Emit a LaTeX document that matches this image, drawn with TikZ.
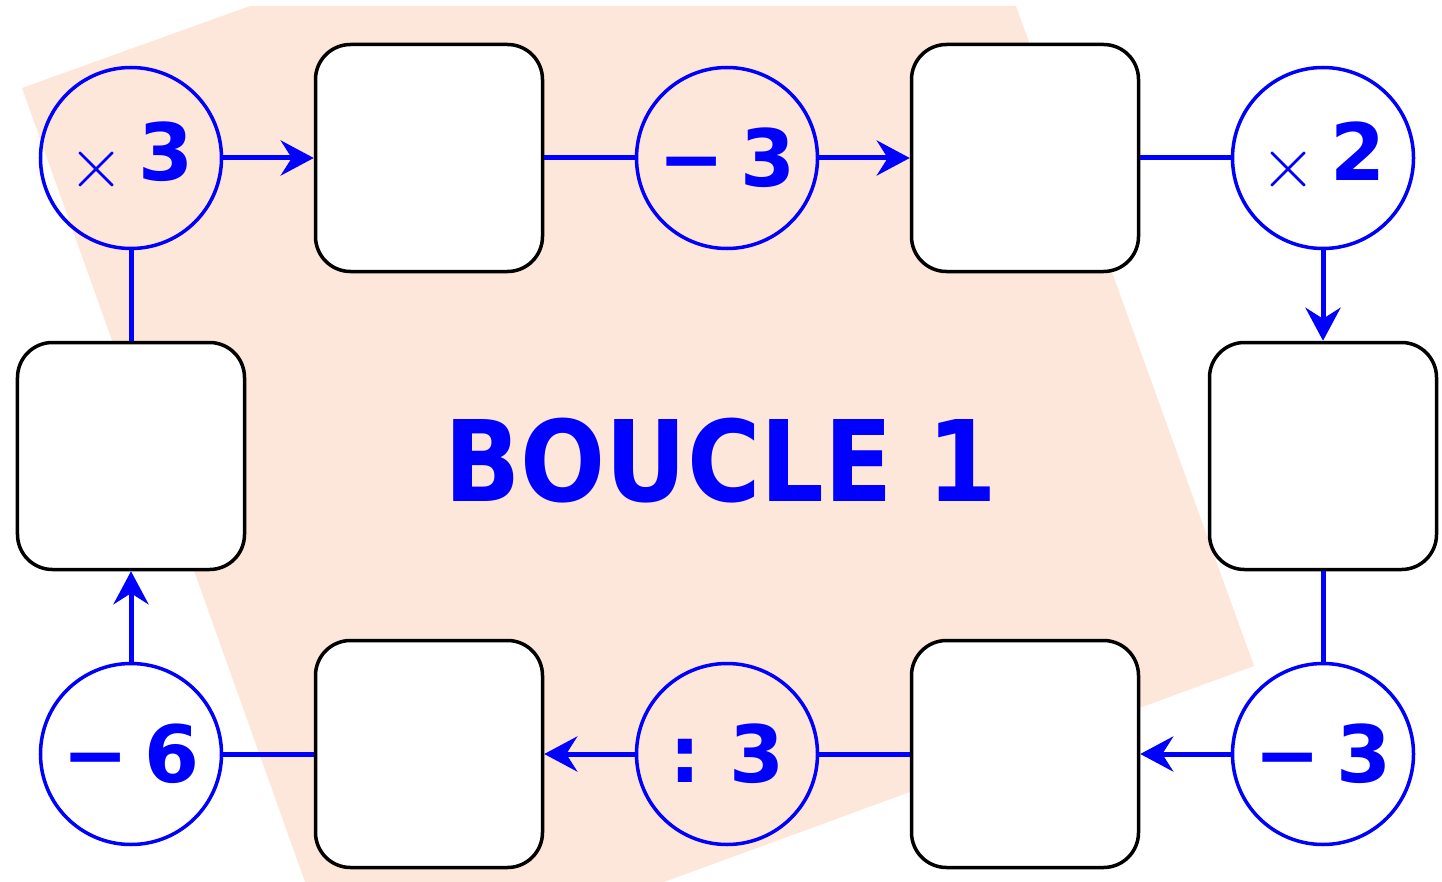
\documentclass[tikz,border=0pt]{standalone}
\usepackage{fontspec}
\usepackage{graphicx}
\setmainfont{DejaVu Sans}
\newfontfamily\titlefont[FakeStretch=0.89]{DejaVu Sans}
\usetikzlibrary{arrows.meta}
\definecolor{peach}{RGB}{253,231,219}
\newcommand{\fois}{\raisebox{-0.14cm}{\scalebox{1.65}{$\times$}}\hspace{0.26cm}}
\newcommand{\moins}{−\hspace{0.32cm}}

\begin{document}
\begin{tikzpicture}[>={Stealth[length=0.66cm,width=0.7cm,inset=0.22cm]},
  node distance=5.96cm, line width=0.1cm, blue,
  op node/.style={circle,draw=blue,line width=0.07cm,minimum size=3.62cm,inner sep=0pt,
    text=blue,font=\bfseries\fontsize{45}{45}\selectfont},
  num box/.style={rectangle,draw=black,fill=white,line width=0.07cm,rounded corners=0.7cm,
    minimum size=4.54cm}]
  \useasboundingbox (-2.62,3.16) rectangle (26.22,-14.48);
  % fond
  \fill[peach] (-2.18,1.40) -- (2.38,3.04) -- (17.70,3.04) -- (22.46,-10.16)
    -- (10.66,-14.48) -- (3.48,-14.48) -- cycle;
  \node[op node] (op1) at (0,0) {\fois 3};
  \node[num box] (b1) [right of =op1] {};
  \node[op node] (op2) [right of =b1] {\moins 3};
  \node[num box] (b2) [right of =op2] {};
  \node[op node] (op3) [right of =b2] {\fois 2};
  \node[num box] (b3) [below of =op3] {};
  \node[op node] (op4) [below of =b3] {\moins 3};
  \node[num box] (b4) [left of =op4] {};
  \node[op node] (op5) [left of =b4] {:\hspace{0.55cm}3};
  \node[num box] (b5) [left of =op5] {};
  \node[op node] (op6) [left of =b5] {\moins 6};
  \node[num box] (b6) [above of =op6] {};
  \node[text=blue,font=\titlefont\bfseries\fontsize{64}{64}\selectfont] (titre) at (11.8,-6.06) {BOUCLE 1};
  \path
     (op1) edge[->] (b1)
     (b1) edge (op2)
     (op2) edge[->] (b2)
     (b2) edge (op3)
     (op3) edge[->] (b3)
     (b3) edge (op4)
     (op4) edge[->] (b4)
     (b4) edge (op5)
     (op5) edge[->] (b5)
     (b5) edge (op6)
     (op6) edge[->] (b6)
     (b6) edge (op1);
\end{tikzpicture}
\end{document}
